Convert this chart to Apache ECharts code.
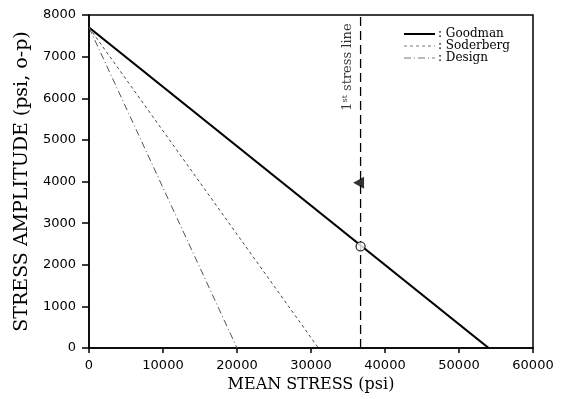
<!DOCTYPE html>
<html>
<head>
<meta charset="utf-8">
<script src="https://cdn.jsdelivr.net/npm/echarts@6/dist/echarts.min.js"></script>
<style>
  html, body { margin: 0; padding: 0; background: #fff; }
  #chart { width: 566px; height: 399px; }
</style>
</head>
<body>
<div id="chart"></div>
<script>
// mean stress (psi) vs stress amplitude (psi, o-p)
const goodman = [[0, 7700], [54000, 0]]
const soderberg = [[0, 7700], [31000, 0]]
const design = [[0, 7700], [20000, 0]]
const stressLineX = 36700
const stressLine = [[stressLineX, 0], [stressLineX, 8000]]
const opPoint = [[stressLineX, 2440]]
const arrowPoint = [[stressLineX, 3970]]
const stressLabel = [[35000, 6750]]

const serif = '"DejaVu Serif", "Liberation Serif", serif'
const sans = '"DejaVu Sans", sans-serif'

const chart = echarts.init(document.getElementById('chart'), null, { renderer: 'canvas' })

const option = {
  animation: false,
  backgroundColor: '#fff',
  grid: {
    left: 89, right: 33, top: 15, bottom: 51,
    show: true, borderColor: '#000', borderWidth: 1.5
  },
  legend: {
    orient: 'vertical',
    left: 398,
    top: 23,
    itemWidth: 31,
    itemHeight: 12,
    itemGap: 0,
    data: [
      { name: 'Goodman' },
      { name: 'Soderberg', lineStyle: { color: '#bbb' } },
      { name: 'Design', lineStyle: { color: '#bbb' } }
    ],
    formatter: ': {name}',
    itemStyle: { opacity: 0 },
    textStyle: { fontFamily: serif, fontSize: 12, lineHeight: 12, color: '#000', padding: [0, 0, 0, -2] }
  },
  xAxis: {
    type: 'value',
    min: 0, max: 60000, interval: 10000,
    name: 'MEAN STRESS (psi)',
    nameLocation: 'middle',
    nameGap: 28,
    nameTextStyle: { fontFamily: serif, fontSize: 16, color: '#000' },
    axisLine: { lineStyle: { color: '#000', width: 1.5 } },
    axisTick: { length: 5, lineStyle: { color: '#000', width: 1.5 } },
    axisLabel: { fontFamily: sans, fontSize: 13, color: '#000', margin: 11, formatter: v => String(v) },
    splitLine: { show: false }
  },
  yAxis: {
    type: 'value',
    min: 0, max: 8000, interval: 1000,
    name: 'STRESS AMPLITUDE (psi, o-p)',
    nameLocation: 'middle',
    nameGap: 56,
    nameTextStyle: { fontFamily: serif, fontSize: 19, color: '#000' },
    axisLine: { lineStyle: { color: '#000', width: 1.5 } },
    axisTick: { length: 7, lineStyle: { color: '#000', width: 1.5 } },
    axisLabel: { fontFamily: sans, fontSize: 13, color: '#000', margin: 13, formatter: v => String(v) },
    splitLine: { show: false }
  },
  series: [
    {
      name: 'Goodman', type: 'line', data: goodman, symbol: 'none',
      lineStyle: { color: '#000', width: 2.2 }, itemStyle: { color: '#000' }
    },
    {
      name: 'Soderberg', type: 'line', data: soderberg, symbol: 'none',
      lineStyle: { color: '#444', width: 1, type: [3, 3] }, itemStyle: { color: '#444' }
    },
    {
      name: 'Design', type: 'line', data: design, symbol: 'none',
      lineStyle: { color: '#555', width: 1, type: [7, 3, 1, 3] }, itemStyle: { color: '#555' }
    },
    {
      name: 'stress line', type: 'line', data: stressLine, symbol: 'none',
      lineStyle: { color: '#000', width: 1.3, type: [9, 5] }
    },
    {
      name: 'op', type: 'scatter', data: opPoint, symbol: 'circle', symbolSize: 9,
      itemStyle: { color: '#fff', borderColor: '#000', borderWidth: 1.3 }, z: 5
    },
    {
      name: 'arrow', type: 'scatter', data: arrowPoint, symbol: 'triangle',
      symbolSize: [12, 11], symbolRotate: 90, symbolOffset: [-2, 0],
      itemStyle: { color: '#000' }, z: 5
    },
    {
      name: 'label', type: 'scatter', data: stressLabel, symbol: 'circle', symbolSize: 1,
      silent: true, itemStyle: { color: 'rgba(0,0,0,0)' },
      label: {
        show: true, position: 'inside', rotate: 90,
        formatter: '1{sup|st} stress line',
        fontFamily: serif, fontSize: 13, color: '#000',
        rich: { sup: { fontFamily: serif, fontSize: 8, verticalAlign: 'top', padding: [0, 0, 6, 0], color: '#000' } }
      }
    }
  ]
}

chart.setOption(option)
</script>
</body>
</html>
